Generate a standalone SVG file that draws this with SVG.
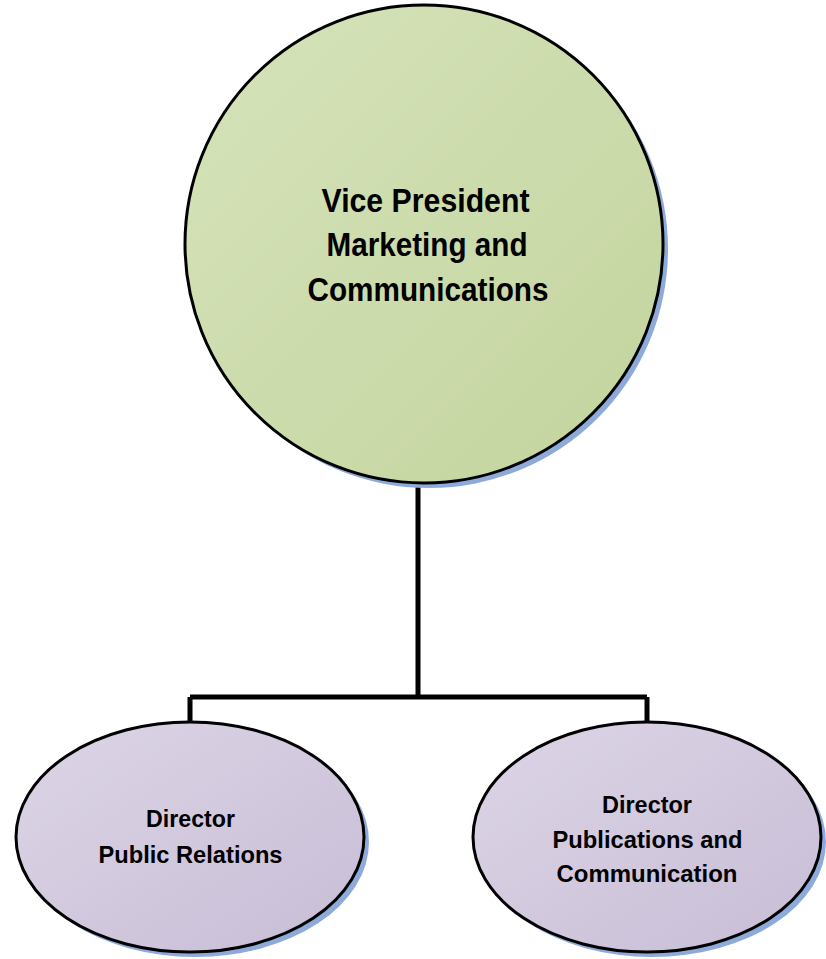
<svg xmlns="http://www.w3.org/2000/svg" width="826" height="959" viewBox="0 0 826 959">
<defs>
<linearGradient id="gGreen" x1="0" y1="0" x2="1" y2="1">
<stop offset="0" stop-color="#d6e3bb"/>
<stop offset="1" stop-color="#c3d49d"/>
</linearGradient>
<linearGradient id="gLav" x1="0" y1="0" x2="1" y2="1">
<stop offset="0" stop-color="#ddd5e6"/>
<stop offset="1" stop-color="#c7bdd6"/>
</linearGradient>
</defs>
<style>
.shadow{fill:#8eaadb;stroke:none}
.node{stroke:#000;stroke-width:3}
.conn{fill:none;stroke:#000;stroke-width:5;stroke-linejoin:miter}
text{font-family:"Liberation Sans",Arial,sans-serif;font-weight:bold;fill:#000;text-anchor:middle}
.big{font-size:32.5px}
.small{font-size:24.5px}
</style>
<rect width="826" height="959" fill="#fff"/>
<g id="connectors">
<path class="conn" d="M418 484 V697 M190 697 H647 M190 697 V723 M647 697 V723"/>
</g>
<g id="vp">
<circle class="shadow" cx="429" cy="249" r="239"/>
<circle class="node" cx="424" cy="244" r="239" fill="url(#gGreen)"/>
<text class="big" x="425.5" y="211.7" textLength="208" lengthAdjust="spacingAndGlyphs">Vice President</text>
<text class="big" x="427" y="256" textLength="201" lengthAdjust="spacingAndGlyphs">Marketing and</text>
<text class="big" x="428" y="300.5" textLength="241" lengthAdjust="spacingAndGlyphs">Communications</text>
</g>
<g id="dir-pr">
<ellipse class="shadow" cx="195" cy="842" rx="174" ry="115"/>
<ellipse class="node" cx="190" cy="837" rx="174" ry="115" fill="url(#gLav)"/>
<text class="small" x="190.5" y="827.3" textLength="89" lengthAdjust="spacingAndGlyphs">Director</text>
<text class="small" x="190.5" y="863.3" textLength="184" lengthAdjust="spacingAndGlyphs">Public Relations</text>
</g>
<g id="dir-pub">
<ellipse class="shadow" cx="652" cy="842" rx="174" ry="115"/>
<ellipse class="node" cx="647" cy="837" rx="174" ry="115" fill="url(#gLav)"/>
<text class="small" x="647" y="813.3" textLength="90" lengthAdjust="spacingAndGlyphs">Director</text>
<text class="small" x="647.5" y="848.3" textLength="190" lengthAdjust="spacingAndGlyphs">Publications and</text>
<text class="small" x="647" y="881.7" textLength="181" lengthAdjust="spacingAndGlyphs">Communication</text>
</g>
</svg>
